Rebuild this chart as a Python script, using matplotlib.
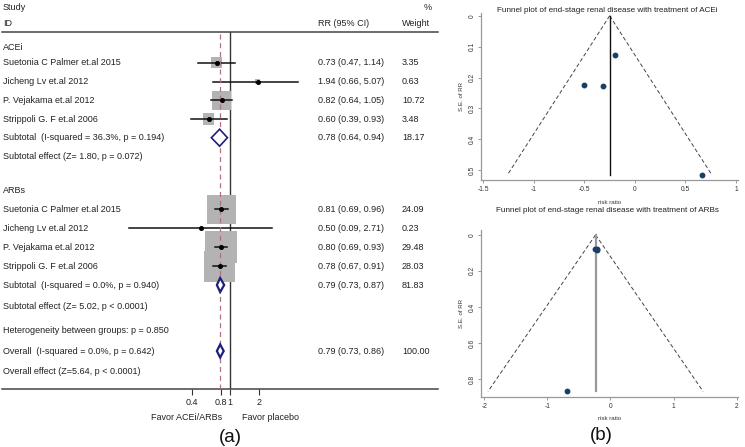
import numpy as np
import matplotlib
matplotlib.use("Agg")
import matplotlib.pyplot as plt
import matplotlib.transforms as mtransforms

plt.rcParams['font.family'] = ['Liberation Sans', 'DejaVu Sans']

# ---------------- data ----------------
acei_studies = ["Suetonia C Palmer et.al 2015", "Jicheng Lv et.al 2012",
                "P. Vejakama et.al 2012", "Strippoli G. F et.al 2006"]
acei_rr = [0.73, 1.94, 0.82, 0.60]
acei_lo = [0.47, 0.66, 0.64, 0.39]
acei_hi = [1.14, 5.07, 1.05, 0.93]
acei_w = [3.35, 0.63, 10.72, 3.48]
acei_sub = [0.78, 0.64, 0.94, 18.17]

arb_studies = ["Suetonia C Palmer et.al 2015", "Jicheng Lv et.al 2012",
               "P. Vejakama et.al 2012", "Strippoli G. F et.al 2006"]
arb_rr = [0.81, 0.50, 0.80, 0.78]
arb_lo = [0.69, 0.09, 0.69, 0.67]
arb_hi = [0.96, 2.71, 0.93, 0.91]
arb_w = [24.09, 0.23, 29.48, 28.03]
arb_sub = [0.79, 0.73, 0.87, 81.83]

overall = [0.79, 0.73, 0.86, 100.00]

acei_sub_label = "Subtotal  (I-squared = 36.3%, p = 0.194)"
acei_eff_label = "Subtotal effect (Z= 1.80, p = 0.072)"
arb_sub_label = "Subtotal  (I-squared = 0.0%, p = 0.940)"
arb_eff_label = "Subtotal effect (Z= 5.02, p < 0.0001)"
het_label = "Heterogeneity between groups: p = 0.850"
overall_label = "Overall  (I-squared = 0.0%, p = 0.642)"
overall_eff_label = "Overall effect (Z=5.64, p < 0.0001)"

forest_ticks = [0.4, 0.8, 1, 2]
forest_ticklabels = ["0.4", "0.8", "1", "2"]

# funnel plot data (log RR vs standard error)
fun_acei_logrr = [-0.315, 0.66, -0.195, -0.505]
fun_acei_se = [0.228, 0.517, 0.128, 0.223]
fun_arb_logrr = [-0.21, -0.69, -0.22, -0.25]
fun_arb_se = [0.084, 0.869, 0.076, 0.078]

# ---------------- layout ----------------
W, H = 745, 447
fig = plt.figure(figsize=(W / 100, H / 100), dpi=100)

def fx(px):
    return px / W

def fy(py):
    return 1 - py / H

# forest axes in pixel rows (y data = pixel row)
top_px, bot_px = 32, 389
left_px, right_px = 2, 438
ax = fig.add_axes([fx(left_px), fy(bot_px), fx(right_px - left_px), (bot_px - top_px) / H])
ax.set_xscale('log')
ax.set_xlim(np.exp(-5.455), np.exp(4.976))
ax.set_ylim(bot_px, top_px)
for s in ['left', 'right']:
    ax.spines[s].set_visible(False)
for s in ['top', 'bottom']:
    ax.spines[s].set_color('#444444')
    ax.spines[s].set_linewidth(1.1)
ax.set_yticks([])
ax.set_xticks(forest_ticks)
ax.set_xticklabels(forest_ticklabels, fontsize=6.5, color='#222222')
ax.xaxis.set_minor_locator(matplotlib.ticker.NullLocator())
ax.tick_params(axis='x', length=4, width=0.8, color='#333333', pad=2.5)

tb = mtransforms.blended_transform_factory(ax.transAxes, ax.transData)

def ax_x(px):
    return (px - left_px) / (right_px - left_px)

fs = 6.5
tc = '#222222'

def txt(px, py, s, ha='left', **kw):
    ax.text(ax_x(px), py, s, transform=tb, ha=ha, va='center', fontsize=fs,
            color=tc, clip_on=False, **kw)

# header
txt(3, 7, "Study")
txt(3, 23, "ID")
txt(432, 7, "%", ha='right')
txt(318, 23, "RR (95% CI)")
txt(402, 23, "Weight")

# reference lines
ax.plot([1, 1], [bot_px, top_px], color='#333333', lw=1.0, zorder=1)
ax.plot([overall[0], overall[0]], [bot_px, top_px + 2], color='#b07080', lw=0.9,
        ls=(0, (4, 3)), zorder=4)

sq_color = '#b3b3b3'
px_per_sqrtw = 5.9

def study_rows(names, rr, lo, hi, w, ys):
    for n, r, l, h, wt, y in zip(names, rr, lo, hi, w, ys):
        side_pt = px_per_sqrtw * np.sqrt(wt) * 0.72
        ax.scatter([r], [y], s=side_pt ** 2, marker='s', color=sq_color,
                   edgecolors='none', zorder=2)
        ax.plot([l, h], [y, y], color='#111111', lw=1.1, zorder=3)
        ax.plot([r], [y], 'o', color='#000000', ms=2.6, zorder=5)
        txt(3, y, n)
        txt(318, y, f"{r:.2f} ({l:.2f}, {h:.2f})")
        txt(402, y, f"{wt:.2f}")

def diamond(vals, y, label, hh, lw):
    est, l, h, wt = vals
    ax.fill([l, est, h, est, l], [y, y - hh, y, y + hh, y], facecolor='white',
            edgecolor='#1f1f7a', lw=lw, zorder=6)
    txt(3, y, label)
    txt(318, y, f"{est:.2f} ({l:.2f}, {h:.2f})")
    txt(402, y, f"{wt:.2f}")

acei_y = [62.7, 81.7, 100.3, 119.0]
arb_y = [209.3, 228.3, 247.3, 266.3]

txt(3, 47, "ACEi")
study_rows(acei_studies, acei_rr, acei_lo, acei_hi, acei_w, acei_y)
diamond(acei_sub, 137.7, acei_sub_label, 8.5, 1.2)
txt(3, 156.7, acei_eff_label)

txt(3, 190, "ARBs")
study_rows(arb_studies, arb_rr, arb_lo, arb_hi, arb_w, arb_y)
diamond(arb_sub, 285, arb_sub_label, 7, 1.6)
txt(3, 306.7, arb_eff_label)

txt(3, 330.7, het_label)
diamond(overall, 351, overall_label, 6.5, 1.6)
txt(3, 371, overall_eff_label)

fig.text(fx(222), fy(418), "Favor ACEi/ARBs", ha='right', va='center', fontsize=fs, color=tc)
fig.text(fx(242), fy(418), "Favor placebo", ha='left', va='center', fontsize=fs, color=tc)
fig.text(fx(230), fy(437), "(a)", ha='center', va='center', fontsize=13.5, color='#111111')

# ---------------- funnel plots ----------------
pt_color = '#1a3f66'

def funnel(rect, logrr, se, pooled, xlim, ylim, xticks, xtl, yticks, ytl,
           title, title_y, vcolor, vlw):
    a = fig.add_axes(rect)
    se_max = max(se)
    a.plot([pooled, pooled - 1.96 * se_max], [0, se_max], color='#444444', lw=0.7,
           ls=(0, (4, 2.5)))
    a.plot([pooled, pooled + 1.96 * se_max], [0, se_max], color='#444444', lw=0.7,
           ls=(0, (4, 2.5)))
    a.plot([pooled, pooled], [0, se_max], color=vcolor, lw=vlw)
    a.plot(logrr, se, 'o', color=pt_color, ms=3.2, zorder=5)
    a.set_xlim(*xlim)
    a.set_ylim(*ylim)
    for s in ['top', 'right']:
        a.spines[s].set_visible(False)
    for s in ['left', 'bottom']:
        a.spines[s].set_color('#999999')
        a.spines[s].set_linewidth(0.9)
    a.set_xticks(xticks)
    a.set_xticklabels(xtl, fontsize=4.8, color='#333333')
    a.set_yticks(yticks)
    a.set_yticklabels(ytl, fontsize=4.8, color='#333333', rotation=90, va='center')
    a.tick_params(length=2.5, width=0.6, color='#888888', pad=1.5)
    a.set_xlabel("risk ratio", fontsize=4.4, color='#333333', labelpad=5)
    a.set_ylabel("S.E. of RR", fontsize=4.4, color='#333333', labelpad=3)
    fig.text(fx(607), fy(title_y), title, ha='center', va='center', fontsize=5.9,
             color='#222222')
    return a

funnel([fx(481), fy(180), fx(738 - 481), (180 - 13) / H],
       fun_acei_logrr, fun_acei_se, np.log(acei_sub[0]),
       (-1.52, 1.02), (0.532, -0.009),
       [-1.5, -1, -0.5, 0, 0.5, 1], ["-1.5", "-1", "-0.5", "0", "0.5", "1"],
       [0, 0.1, 0.2, 0.3, 0.4, 0.5], ["0", "0.1", "0.2", "0.3", "0.4", "0.5"],
       "Funnel plot of end-stage renal disease with treatment of ACEi", 11,
       '#111111', 1.0)

funnel([fx(481), fy(397), fx(738 - 481), (397 - 230) / H],
       fun_arb_logrr, fun_arb_se, np.log(arb_sub[0]),
       (-2.05, 2.02), (0.90, -0.027),
       [-2, -1, 0, 1, 2], ["-2", "-1", "0", "1", "2"],
       [0, 0.2, 0.4, 0.6, 0.8], ["0", "0.2", "0.4", "0.6", "0.8"],
       "Funnel plot of end-stage renal disease with treatment of ARBs", 211,
       '#999999', 1.6)

fig.text(fx(601), fy(436), "(b)", ha='center', va='center', fontsize=13.5, color='#111111')

fig.savefig("out.png", dpi=100)
